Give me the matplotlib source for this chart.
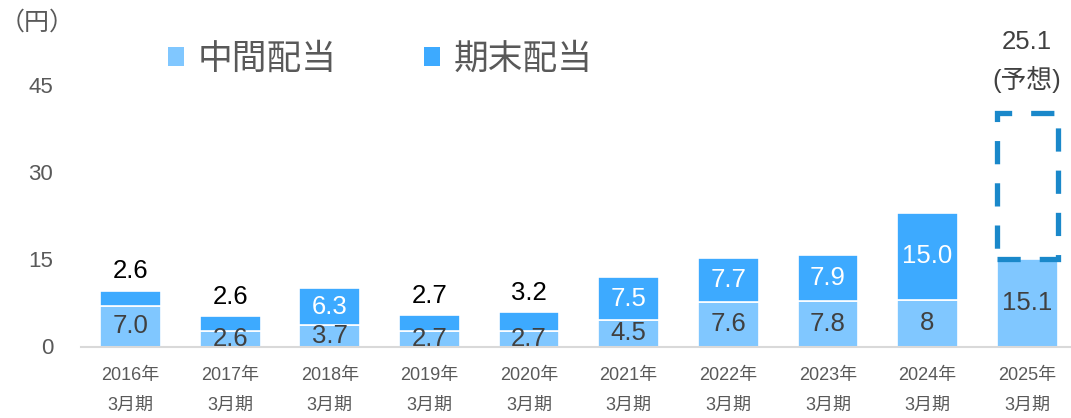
import matplotlib
matplotlib.use("Agg")
import matplotlib.pyplot as plt
from matplotlib.patches import Patch

# -----------------------
# Data
# -----------------------
years = ["2016年", "2017年", "2018年", "2019年", "2020年",
         "2021年", "2022年", "2023年", "2024年", "2025年"]
interim = [7.0, 2.6, 3.7, 2.7, 2.7, 4.5, 7.6, 7.8, 8.0, 15.1]
interim_labels = ["7.0", "2.6", "3.7", "2.7", "2.7", "4.5", "7.6", "7.8", "8", "15.1"]
year_end = [2.6, 2.6, 6.3, 2.7, 3.2, 7.5, 7.7, 7.9, 15.0]
year_end_labels = ["2.6", "2.6", "6.3", "2.7", "3.2", "7.5", "7.7", "7.9", "15.0"]
forecast = 25.1
forecast_label = "25.1\n(予想)"
yticks = [0, 15, 30, 45]

# -----------------------
# Style
# -----------------------
plt.rcParams["font.family"] = ["Liberation Sans", "Noto Sans CJK JP", "DejaVu Sans"]
C_INTERIM = "#80C7FF"
C_END = "#3DAAFF"
C_FORECAST = "#1A88CA"
GRAY = "#595959"
DARK = "#404040"

W, H = 1071, 418
fig = plt.figure(figsize=(W / 100, H / 100), dpi=100)
ax = fig.add_axes([81 / W, 71.5 / H, (W - 81) / W, 346.5 / H])

x = list(range(len(years)))
bw = 0.61

ax.bar(x, interim, width=bw, color=C_INTERIM, edgecolor="white", linewidth=1.2, zorder=2)
ax.bar(x[:len(year_end)], year_end, width=bw, bottom=interim[:len(year_end)],
       color=C_END, edgecolor="white", linewidth=1.2, zorder=2)

# forecast box (dashed, no fill)
ax.bar(x[-1], forecast, width=bw, bottom=interim[-1], fill=False,
       edgecolor=C_FORECAST, linewidth=3.8, linestyle=(0, (4.4, 3.6)), zorder=3)

# labels
for i, (v, lab) in enumerate(zip(interim, interim_labels)):
    ax.text(i, v / 2, lab, ha="center", va="center", fontsize=18.5, color=DARK, zorder=4)

for i, (v, lab) in enumerate(zip(year_end, year_end_labels)):
    top = interim[i] + v
    if v < 4:
        ax.annotate(lab, (i, top), xytext=(0, 14), textcoords="offset points",
                    ha="center", va="center", fontsize=18.5, color="black")
    else:
        ax.text(i, interim[i] + v / 2, lab, ha="center", va="center",
                fontsize=18.5, color="white", zorder=4)

ax.annotate(forecast_label, (x[-1], interim[-1] + forecast), xytext=(0, 14),
            textcoords="offset points", ha="center", va="bottom", fontsize=18.5,
            color=DARK, linespacing=1.55)

# axes
ax.set_xlim(-0.497, 9.44)
ax.set_ylim(0, 346.5 / 5.81)
ax.set_yticks(yticks)
ax.set_yticklabels([str(t) for t in yticks], fontsize=16, color=GRAY)
ax.set_xticks(x)
ax.set_xticklabels([f"{y}\n3月期" for y in years], fontsize=13, color=GRAY, linespacing=2.0)
ax.tick_params(axis="both", length=0)
ax.tick_params(axis="y", pad=20)
ax.tick_params(axis="x", pad=15)
for s in ["top", "right", "left"]:
    ax.spines[s].set_visible(False)
ax.spines["bottom"].set_color("#D9D9D9")
ax.spines["bottom"].set_linewidth(1.5)
ax.spines["bottom"].set_zorder(5)

# unit label
fig.text(0 / W, 1 - 23 / H, "（円）", fontsize=18, color=GRAY, ha="left", va="center")

# legend
handles = [Patch(facecolor=C_INTERIM, label="中間配当"),
           Patch(facecolor=C_END, label="期末配当")]
fig.legend(handles=handles, loc="center left", bbox_to_anchor=(168 / W, 1 - 59 / H),
           ncol=2, frameon=False, fontsize=25, labelcolor=GRAY,
           handlelength=0.46, handleheight=0.46, handletextpad=0.4,
           columnspacing=2.5, borderpad=0, borderaxespad=0)

fig.savefig("out.png", dpi=100)
